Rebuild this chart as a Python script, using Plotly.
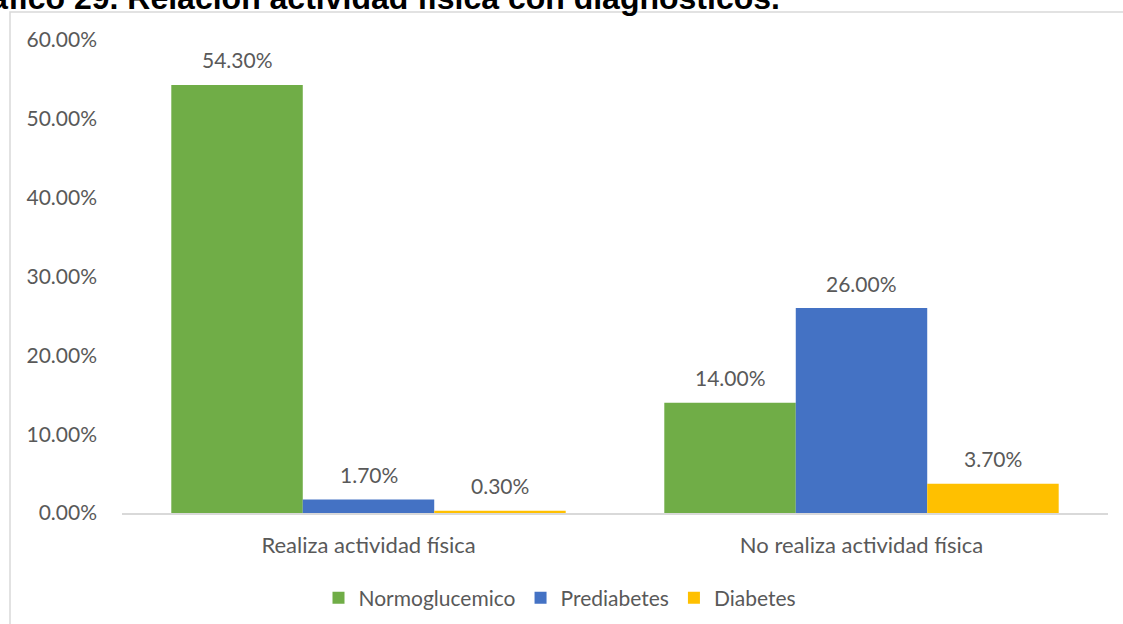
import plotly.graph_objects as go

# Datos del gráfico
categorias = ["Realiza actividad física", "No realiza actividad física"]
normoglucemico = [0.543, 0.14]
prediabetes = [0.017, 0.26]
diabetes = [0.003, 0.037]
series = [
    ("Normoglucemico", normoglucemico, "#70AD47"),
    ("Prediabetes", prediabetes, "#4472C4"),
    ("Diabetes", diabetes, "#FFC000"),
]
ticks_y = [0, 0.1, 0.2, 0.3, 0.4, 0.5, 0.6]
titulo = "Gráfico 29. Relación actividad física con diagnósticos."

W, H = 1123, 624
ML, MR, MT, MB = 122, 15, 40, 111
pw, ph = W - ML - MR, H - MT - MB

def px_x(p):
    return (p - ML) / pw

def px_y(p):
    return (H - MB - p) / ph

TXT = "#595959"
FONT = "Lato"

fig = go.Figure()
for nombre, vals, color in series:
    fig.add_trace(go.Bar(
        name=nombre, x=categorias, y=vals,
        marker=dict(color=color, line=dict(width=0)),
    ))

# Etiquetas de valor sobre cada barra
n = len(series)
ancho = 0.8 / n
anns = []
for i, (nombre, vals, color) in enumerate(series):
    off = (i - (n - 1) / 2) * ancho
    for j, v in enumerate(vals):
        anns.append(dict(
            x=j + off, y=v, xref="x", yref="y",
            text=f"{v * 100:.2f}%", showarrow=False,
            yanchor="middle", yshift=25,
            font=dict(family=FONT, size=21, color=TXT),
        ))

anns.append(dict(
    x=px_x(782), y=px_y(18), xref="paper", yref="paper",
    xanchor="right", yanchor="bottom", showarrow=False,
    text=f"<b>{titulo}</b>",
    font=dict(family="Liberation Sans", size=32, color="black"),
))

fig.update_layout(
    width=W, height=H,
    margin=dict(l=ML, r=MR, t=MT, b=MB, pad=0, autoexpand=False),
    paper_bgcolor="white", plot_bgcolor="white",
    barmode="group", bargap=0.2, bargroupgap=0,
    font=dict(family=FONT, size=21, color=TXT),
    showlegend=True,
    legend=dict(
        orientation="h", x=px_x(560), xanchor="center",
        y=px_y(598), yanchor="middle",
        font=dict(family=FONT, size=21, color=TXT),
        itemwidth=30, tracegroupgap=0,
    ),
    xaxis=dict(
        showgrid=False, showline=True, linecolor="#D9D9D9", linewidth=2,
        ticks="", automargin=False, ticklabelstandoff=12,
        tickfont=dict(family=FONT, size=22, color=TXT),
    ),
    yaxis=dict(
        range=[0, 0.6], tickvals=ticks_y, tickformat=".2%",
        showgrid=False, zeroline=False, showline=False, ticks="",
        ticklabelstandoff=24, automargin=False,
        tickfont=dict(family=FONT, size=21, color=TXT),
    ),
    annotations=anns,
    shapes=[dict(
        type="rect", xref="paper", yref="paper",
        x0=px_x(10), x1=px_x(1140), y0=px_y(640), y1=px_y(12),
        line=dict(color="#D9D9D9", width=1.5), fillcolor="rgba(0,0,0,0)",
        layer="below",
    )],
)

fig.write_html("out.html")
